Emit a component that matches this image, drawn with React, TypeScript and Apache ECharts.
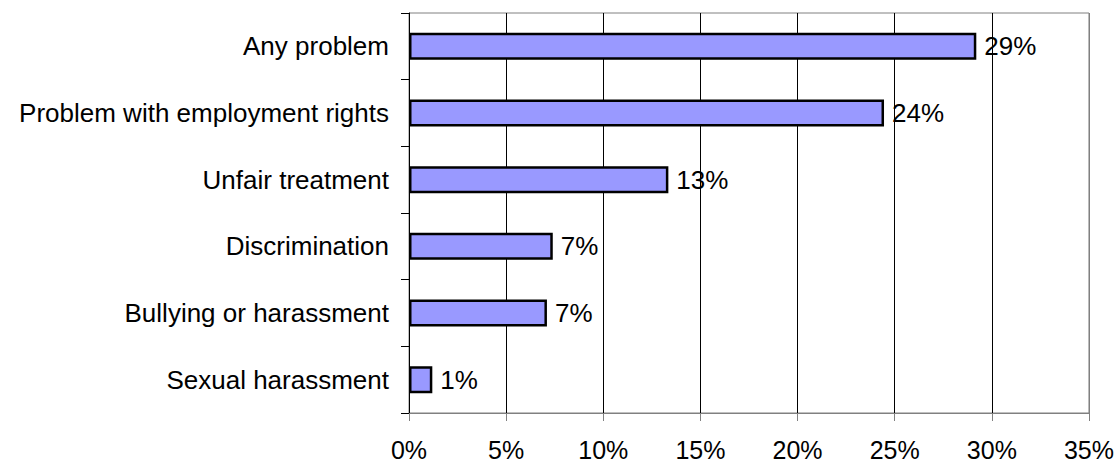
import React, { useEffect, useRef } from "react";
import * as echarts from "echarts";

const categories = [
  "Any problem",
  "Problem with employment rights",
  "Unfair treatment",
  "Discrimination",
  "Bullying or harassment",
  "Sexual harassment",
];
const values = [29.2, 24.45, 13.35, 7.4, 7.1, 1.2];
const xTicks = { min: 0, max: 35, interval: 5 };

const FONT = "'Liberation Sans', Arial, sans-serif";

export default function App() {
  const ref = useRef<HTMLDivElement>(null);
  useEffect(() => {
    document.body.style.margin = "0";
    const chart = echarts.init(ref.current!, null, { renderer: "svg" });
    chart.setOption({
      animation: false,
      backgroundColor: "#ffffff",
      grid: {
        left: 409,
        right: 28,
        top: 13,
        bottom: 50,
        show: true,
        borderColor: "#808080",
        borderWidth: 1,
        containLabel: false,
      },
      xAxis: {
        type: "value",
        min: xTicks.min,
        max: xTicks.max,
        interval: xTicks.interval,
        axisLine: { show: true, lineStyle: { color: "#808080", width: 1 } },
        axisTick: { show: true, length: 8, lineStyle: { color: "#808080" } },
        axisLabel: {
          formatter: (v: number) => `${v}%`,
          fontSize: 25,
          lineHeight: 25,
          fontFamily: FONT,
          color: "#000",
          margin: 24,
        },
        splitLine: {
          show: true,
          lineStyle: {
            color: ["#000", "#000", "#000", "#000", "#000", "#000", "#000", "#808080"],
            width: 1,
          },
        },
      },
      yAxis: {
        type: "category",
        inverse: true,
        data: categories,
        axisLine: { show: true, lineStyle: { color: "#000", width: 1 } },
        axisTick: { show: true, length: 8, lineStyle: { color: "#000" } },
        axisLabel: {
          fontSize: 26,
          fontFamily: FONT,
          color: "#000",
          margin: 20,
        },
        splitLine: { show: false },
      },
      series: [
        {
          type: "bar",
          data: values,
          barWidth: 27,
          itemStyle: { color: "#9999FF", borderColor: "#000", borderWidth: 2.5 },
          label: {
            show: true,
            position: "right",
            distance: 8,
            formatter: (p: any) => `${Math.round(p.value)}%`,
            fontSize: 26,
            fontFamily: FONT,
            color: "#000",
          },
        },
      ],
    });
    return () => chart.dispose();
  }, []);
  return <div ref={ref} style={{ width: 1117, height: 463 }} />;
}
